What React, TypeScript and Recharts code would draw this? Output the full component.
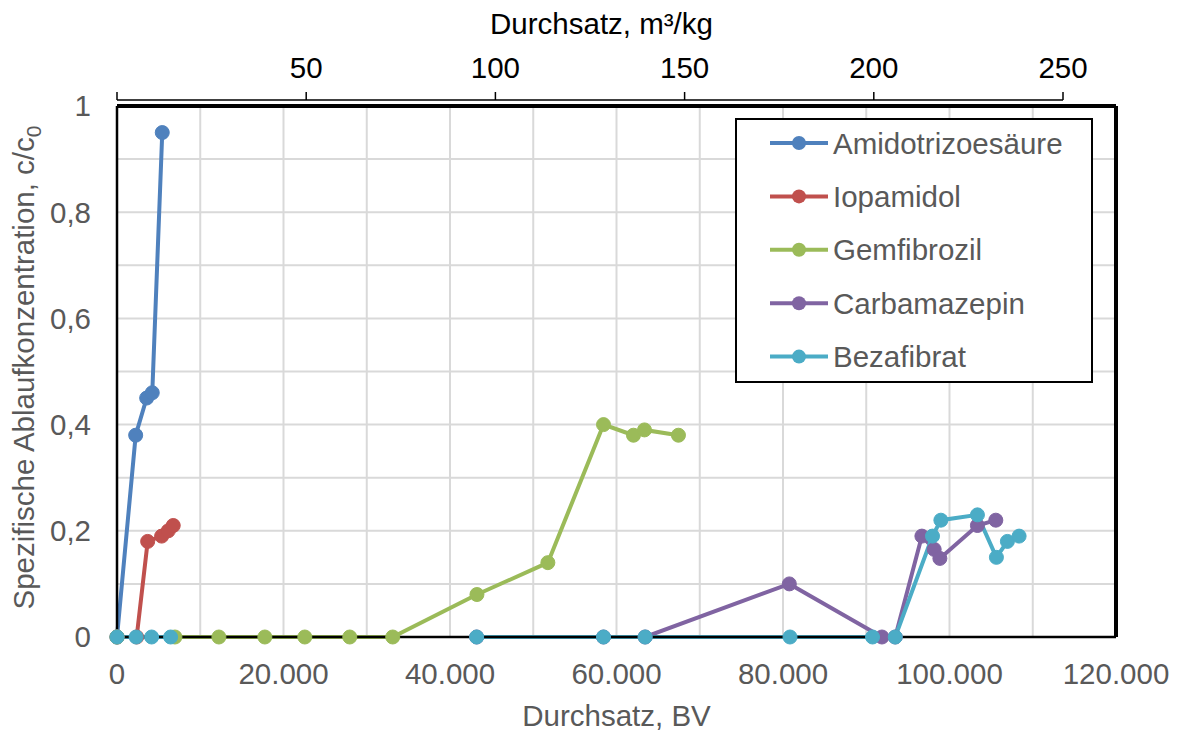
import {
  LineChart,
  Line,
  XAxis,
  YAxis,
  CartesianGrid,
  ReferenceLine,
  Legend,
  Label,
} from "recharts";

const FONT = '"Liberation Sans", Arial, sans-serif';
const GRAY = "#595959";
const FS = 29.5;

// Durchsatz in BV / spezifische Ablaufkonzentration c/c0
const amidoBV = [0, 2244, 3564, 4236, 5436];
const amidoC = [0, 0.38, 0.45, 0.46, 0.95];

const iopaBV = [0, 2364, 3684, 5364, 6156, 6756];
const iopaC = [0, 0, 0.18, 0.19, 0.2, 0.21];

const gemBV = [0, 6960, 12240, 17760, 22560, 27960, 33120, 43236, 51756, 58440, 62040, 63360, 67440];
const gemC = [0, 0, 0, 0, 0, 0, 0, 0.08, 0.14, 0.4, 0.38, 0.39, 0.38];

const carbBV = [43200, 58440, 63440, 80760, 91884, 93480, 96684, 98160, 98844, 103356, 105564];
const carbC = [0, 0, 0, 0.1, 0, 0, 0.19, 0.165, 0.148, 0.21, 0.22];

// null = Lücke in der Messreihe
const bezaBV = [0, 2300, 4160, 6440, null, 43200, 58440, 63440, 80840, 90756, 93480, 97956, 98964, 103356, 105636, 106956, 108360];
const bezaC = [0, 0, 0, 0, null, 0, 0, 0, 0, 0, 0, 0.19, 0.22, 0.23, 0.15, 0.18, 0.19];

const xTicks = [0, 10000, 20000, 30000, 40000, 50000, 60000, 70000, 80000, 90000, 100000, 110000, 120000];
const yTicks = [0, 0.1, 0.2, 0.3, 0.4, 0.5, 0.6, 0.7, 0.8, 0.9, 1];
const topTicks = [0, 50, 100, 150, 200, 250];

const toPoints = (bv: (number | null)[], c: (number | null)[]) =>
  bv.map((x, i) => ({ bv: x, c: c[i] }));

const series = [
  { name: "Amidotrizoesäure", color: "#4F81BD", data: toPoints(amidoBV, amidoC) },
  { name: "Iopamidol", color: "#C0504D", data: toPoints(iopaBV, iopaC) },
  { name: "Gemfibrozil", color: "#9BBB59", data: toPoints(gemBV, gemC) },
  { name: "Carbamazepin", color: "#8064A2", data: toPoints(carbBV, carbC) },
  { name: "Bezafibrat", color: "#4BACC6", data: toPoints(bezaBV, bezaC) },
];

// chart-level data only feeds the m³/kg axis on top
const topAxisData = topTicks.map((v) => ({ m3: v }));

const fmtBV = (v: number) => {
  if (v % 20000 !== 0) return "";
  return String(v).replace(/\B(?=(\d{3})+(?!\d))/g, ".");
};

const fmtC = (v: number) => {
  if (Math.round(v * 10) % 2 !== 0) return "";
  if (v === 0 || v === 1) return String(v);
  return v.toFixed(1).replace(".", ",");
};

function TopTick(props: any) {
  const { x, y, payload } = props;
  return (
    <g>
      <line x1={x} x2={x} y1={y - 6} y2={y - 14} stroke="#000" strokeWidth={1.5} />
      {payload.value !== 0 && (
        <text x={x} y={y - 28} textAnchor="middle" fill="#000" fontSize={FS} fontFamily={FONT}>
          {payload.value}
        </text>
      )}
    </g>
  );
}

function TopTitle(props: any) {
  const { x, y, width } = props.viewBox;
  return (
    <text x={x + width / 2 - 15} y={y - 12} textAnchor="middle" fill="#000" fontSize={FS} fontFamily={FONT}>
      Durchsatz, m³/kg
    </text>
  );
}

function BottomTitle(props: any) {
  const { x, y, width } = props.viewBox;
  return (
    <text x={x + width / 2} y={y + 89} textAnchor="middle" fill={GRAY} fontSize={FS} fontFamily={FONT}>
      Durchsatz, BV
    </text>
  );
}

function YTitle(props: any) {
  const { x, y, height } = props.viewBox;
  const cx = x - 3;
  const cy = y + height / 2 - 4;
  return (
    <text
      x={cx}
      y={cy}
      transform={`rotate(-90, ${cx}, ${cy})`}
      textAnchor="middle"
      fill={GRAY}
      fontSize={FS}
      fontFamily={FONT}
    >
      Spezifische Ablaufkonzentration, c/c
      <tspan dy={7} fontSize={21}>0</tspan>
    </text>
  );
}

function LegendBox() {
  return (
    <div style={{ width: 354, height: 261, border: "2px solid #000", background: "#fff" }}>
      <svg width={354} height={261}>
        {series.map((s, i) => {
          const cy = 23 + i * 53.4;
          return (
            <g key={s.name}>
              <line x1={33} x2={91} y1={cy} y2={cy} stroke={s.color} strokeWidth={4} />
              <circle cx={62} cy={cy} r={7} fill={s.color} />
              <text x={96} y={cy + 10.5} fill={GRAY} fontSize={FS} fontFamily={FONT}>
                {s.name}
              </text>
            </g>
          );
        })}
      </svg>
    </div>
  );
}

export default function App() {
  return (
    <div style={{ position: "absolute", left: 0, top: 0, width: 1180, height: 731, background: "#fff" }}>
      <LineChart
        width={1180}
        height={731}
        data={topAxisData}
        margin={{ top: 46, right: 64, bottom: 34, left: 37 }}
      >
        <CartesianGrid stroke="#D9D9D9" strokeWidth={2} />
        <XAxis
          type="number"
          dataKey="bv"
          domain={[0, 120000]}
          ticks={xTicks}
          interval={0}
          tickFormatter={fmtBV}
          height={60}
          tickLine={false}
          tickSize={0}
          tickMargin={26}
          axisLine={{ stroke: "#000", strokeWidth: 2.5 }}
          tick={{ fill: GRAY, fontSize: FS, fontFamily: FONT }}
        >
          <Label content={BottomTitle} />
        </XAxis>
        <XAxis
          xAxisId="top"
          orientation="top"
          type="number"
          dataKey="m3"
          domain={[0, 250]}
          allowDataOverflow
          ticks={topTicks}
          interval={0}
          padding={{ left: 0, right: 53 }}
          height={60}
          tickLine={false}
          tickSize={0}
          tickMargin={0}
          axisLine={{ stroke: "#000", strokeWidth: 1.5, strokeDasharray: "946 3000", transform: "translate(0,-6)" }}
          tick={(p: any) => <TopTick {...p} />}
        >
          <Label content={TopTitle} />
        </XAxis>
        <YAxis
          type="number"
          domain={[0, 1]}
          ticks={yTicks}
          interval={0}
          tickFormatter={fmtC}
          width={80}
          tickLine={false}
          tickSize={0}
          tickMargin={26}
          axisLine={{ stroke: "#000", strokeWidth: 2.5 }}
          tick={{ fill: GRAY, fontSize: FS, fontFamily: FONT }}
        >
          <Label content={YTitle} />
        </YAxis>
        <ReferenceLine y={1} stroke="#000" strokeWidth={4} />
        <ReferenceLine x={120000} stroke="#000" strokeWidth={4} />
        {series.map((s) => (
          <Line
            key={s.name}
            name={s.name}
            data={s.data}
            dataKey="c"
            type="linear"
            stroke={s.color}
            strokeWidth={4}
            dot={{ r: 7, fill: s.color, stroke: s.color, strokeWidth: 1 }}
            activeDot={false}
            isAnimationActive={false}
          />
        ))}
        <Legend
          layout="vertical"
          align="center"
          verticalAlign="middle"
          content={<LegendBox />}
          wrapperStyle={{ left: 735, top: 118, width: 358, height: 265 }}
        />
      </LineChart>
    </div>
  );
}
